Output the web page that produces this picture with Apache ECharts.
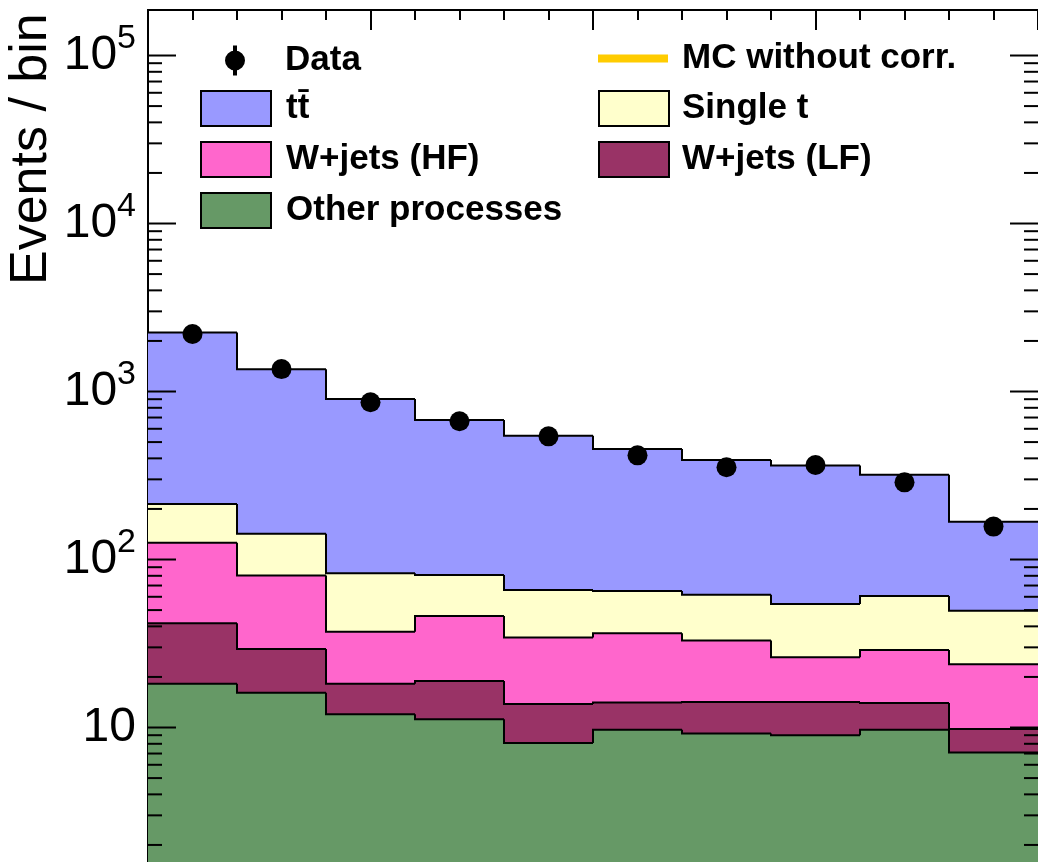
<!DOCTYPE html>
<html>
<head>
<meta charset="utf-8">
<script src="https://cdn.jsdelivr.net/npm/echarts@6/dist/echarts.min.js"></script>
<style>
html,body{margin:0;padding:0;background:#fff;}
#chart{width:1038px;height:862px;}
</style>
</head>
<body>
<div id="chart"></div>
<script>
// ---- data ----
const binEdges = [0, 0.2, 0.4, 0.6, 0.8, 1.0, 1.2, 1.4, 1.6, 1.8, 2.0];
const dataCounts   = [2200, 1360, 863, 665, 541, 417, 354, 365, 288, 157];
const ttbar        = [2035, 1213, 819, 595, 480, 390, 329, 308, 259, 118];
const singleTop    = [88, 62, 45.6, 34.8, 31.5, 28.5, 28.7, 28.1, 31.8, 25.8];
const wjetsHF      = [84.3, 50.9, 19.0, 27.2, 20.5, 22.3, 18.8, 12.0, 14.9, 14.0];
const wjetsLF      = [23.5, 13.2, 6.2, 7.7, 5.7, 4.4, 5.0, 5.2, 4.3, 2.7];
const otherProc    = [18.2, 16.1, 12.0, 11.2, 8.1, 9.7, 9.2, 9.0, 9.7, 7.1];
const mcWithoutCorr = [];
const yMajorTicks = [10, 100, 1000, 10000, 100000];
const yMinorTicks = [2,3,4,5,6,7,8,9, 20,30,40,50,60,70,80,90, 200,300,400,500,600,700,800,900,
                     2000,3000,4000,5000,6000,7000,8000,9000, 20000,30000,40000,50000,60000,70000,80000,90000];
const Y_MIN = 1.583, Y_MAX = 186600;

const FONT = 'Liberation Sans';
const colors = {tt:'#9999ff', st:'#ffffcc', hf:'#ff66cc', lf:'#993366', other:'#669966', mc:'#ffcc00'};

// stacking order bottom -> top
const layers = [
  {name:'Other processes', vals: otherProc, color: colors.other},
  {name:'W+jets (LF)', vals: wjetsLF, color: colors.lf},
  {name:'W+jets (HF)', vals: wjetsHF, color: colors.hf},
  {name:'Single t', vals: singleTop, color: colors.st},
  {name:'tt\u0304', vals: ttbar, color: colors.tt}
];
let cum = new Array(dataCounts.length).fill(0);
layers.forEach(l => { cum = cum.map((c, i) => c + l.vals[i]); l.cum = cum.slice(); });

function histItems(cumVals){
  return cumVals.map((v, i) => [binEdges[i], binEdges[i+1], v, i === 0 ? v : cumVals[i-1]]);
}
function histRender(color){
  return function(params, api){
    const x0 = api.value(0), x1 = api.value(1), top = api.value(2), prev = api.value(3);
    const cs = params.coordSys;
    const bottom = cs.y + cs.height;
    const pA = api.coord([x0, top]);
    const pB = api.coord([x1, top]);
    const pPrev = api.coord([x0, prev]);
    return {type:'group', children:[
      {type:'rect', shape:{x:pA[0], y:pA[1], width:pB[0]-pA[0], height:bottom-pA[1]}, style:{fill:color}},
      {type:'polyline', shape:{points:[[pA[0], pPrev[1]], pA, pB]}, style:{stroke:'#000', lineWidth:2, fill:null}}
    ]};
  };
}

// draw order: top-most cumulative first
const histSeries = layers.slice().reverse().map((l, k) => ({
  type:'custom', name:l.name, xAxisIndex:0, yAxisIndex:0, z:2+k*0.01,
  itemStyle:{color:l.color},
  encode:{x:[0,1], y:2},
  renderItem: histRender(l.color),
  data: histItems(l.cum)
}));

const binCenters = dataCounts.map((_, i) => (binEdges[i] + binEdges[i+1]) / 2);

const tickData = yMajorTicks.map(v => [0, v, 28]).concat(yMinorTicks.map(v => [0, v, 14]));

const chart = echarts.init(document.getElementById('chart'), null, {renderer:'canvas'});
const axisLineStyle = {color:'#000', width:2};
const legendText = {fontFamily:FONT, fontWeight:'bold', fontSize:35, color:'#000'};
function lt(pad){ return Object.assign({padding:[0,0,0,pad]}, legendText); }

chart.setOption({
  animation:false,
  backgroundColor:'#fff',
  grid:{left:148, right:-4, top:10, bottom:0, containLabel:false},
  xAxis:[
    {type:'value', min:0, max:2, interval:0.5, position:'bottom',
     axisLine:{show:true, lineStyle:axisLineStyle},
     axisTick:{show:true, inside:true, length:20, lineStyle:axisLineStyle},
     minorTick:{show:true, splitNumber:5, length:10, lineStyle:axisLineStyle},
     axisLabel:{show:false}, splitLine:{show:false}},
    {type:'value', min:0, max:2, interval:0.5, position:'top',
     axisLine:{show:true, lineStyle:axisLineStyle},
     axisTick:{show:true, inside:true, length:20, lineStyle:axisLineStyle},
     minorTick:{show:true, splitNumber:5, length:10, lineStyle:axisLineStyle},
     axisLabel:{show:false}, splitLine:{show:false}}
  ],
  yAxis:[
    {type:'log', min:Y_MIN, max:Y_MAX, position:'left',
     axisLine:{show:true, lineStyle:axisLineStyle},
     axisTick:{show:false}, splitLine:{show:false},
     axisLabel:{show:true, margin:12, showMinLabel:false, showMaxLabel:false,
       formatter: function(v){
         const e = Math.round(Math.log10(v));
         if (e === 1) return '{b|10}';
         return '{b|10}{s|' + e + '}';
       },
       rich:{
         b:{fontFamily:FONT, fontSize:48, lineHeight:67, color:'#000', verticalAlign:'middle'},
         s:{fontFamily:FONT, fontSize:34, lineHeight:34, color:'#000', verticalAlign:'top'}
       }}},
    {type:'log', min:Y_MIN, max:Y_MAX, position:'right',
     axisLine:{show:true, lineStyle:axisLineStyle},
     axisTick:{show:false}, splitLine:{show:false}, axisLabel:{show:false}}
  ],
  legend:[
    {left:225, top:43, orient:'vertical', padding:0, itemWidth:20, itemHeight:30, selectedMode:false,
     textStyle:lt(35),
     data:[{name:'Data', icon:'path://M0,15a10,10 0 1,0 20,0a10,10 0 1,0 -20,0Z M8,0v30h4v-30Z', itemStyle:{color:'#000', opacity:1}}]},
    {left:598, top:41, orient:'vertical', padding:0, itemWidth:70, itemHeight:8, selectedMode:false,
     textStyle:lt(9),
     data:[{name:'MC without corr.', icon:'rect', itemStyle:{color:colors.mc, borderWidth:0}}]},
    {left:200, top:90, orient:'vertical', padding:0, itemWidth:70, itemHeight:35, itemGap:14, selectedMode:false,
     textStyle:lt(10),
     data:[
       {name:'tt\u0304', icon:'rect', itemStyle:{color:colors.tt, borderColor:'#000', borderWidth:2}},
       {name:'W+jets (HF)', icon:'rect', itemStyle:{color:colors.hf, borderColor:'#000', borderWidth:2}},
       {name:'Other processes', icon:'rect', itemStyle:{color:colors.other, borderColor:'#000', borderWidth:2}}
     ]},
    {left:598, top:90, orient:'vertical', padding:0, itemWidth:70, itemHeight:35, itemGap:14, selectedMode:false,
     textStyle:lt(8),
     data:[
       {name:'Single t', icon:'rect', itemStyle:{color:colors.st, borderColor:'#000', borderWidth:2}},
       {name:'W+jets (LF)', icon:'rect', itemStyle:{color:colors.lf, borderColor:'#000', borderWidth:2}}
     ]}
  ],
  graphic:[
    {type:'text', x:31.5, y:285, rotation:Math.PI/2, silent:true,
     style:{text:'Events / bin', fontFamily:FONT, fontSize:52, fill:'#000', align:'left', verticalAlign:'middle'}}
  ],
  series: histSeries.concat([
    {type:'line', name:'MC without corr.', data:mcWithoutCorr, itemStyle:{color:colors.mc}, lineStyle:{color:colors.mc, width:4}, showSymbol:false},
    {type:'scatter', name:'Data', xAxisIndex:0, yAxisIndex:0, z:4, symbol:'circle', symbolSize:20,
     itemStyle:{color:'#000', opacity:1}, data: binCenters.map((x, i) => [x, dataCounts[i]])},
    {type:'custom', name:'yticks', xAxisIndex:0, yAxisIndex:0, z:6, silent:true,
     encode:{x:0, y:1},
     renderItem:function(params, api){
       const v = api.value(1), len = api.value(2);
       const cs = params.coordSys;
       const y = api.coord([0, v])[1];
       const xl = cs.x, xr = cs.x + cs.width;
       return {type:'group', children:[
         {type:'line', shape:{x1:xl, y1:y, x2:xl+len, y2:y}, style:{stroke:'#000', lineWidth:2}},
         {type:'line', shape:{x1:xr, y1:y, x2:xr-len, y2:y}, style:{stroke:'#000', lineWidth:2}}
       ]};
     },
     data: tickData}
  ])
});
</script>
</body>
</html>
